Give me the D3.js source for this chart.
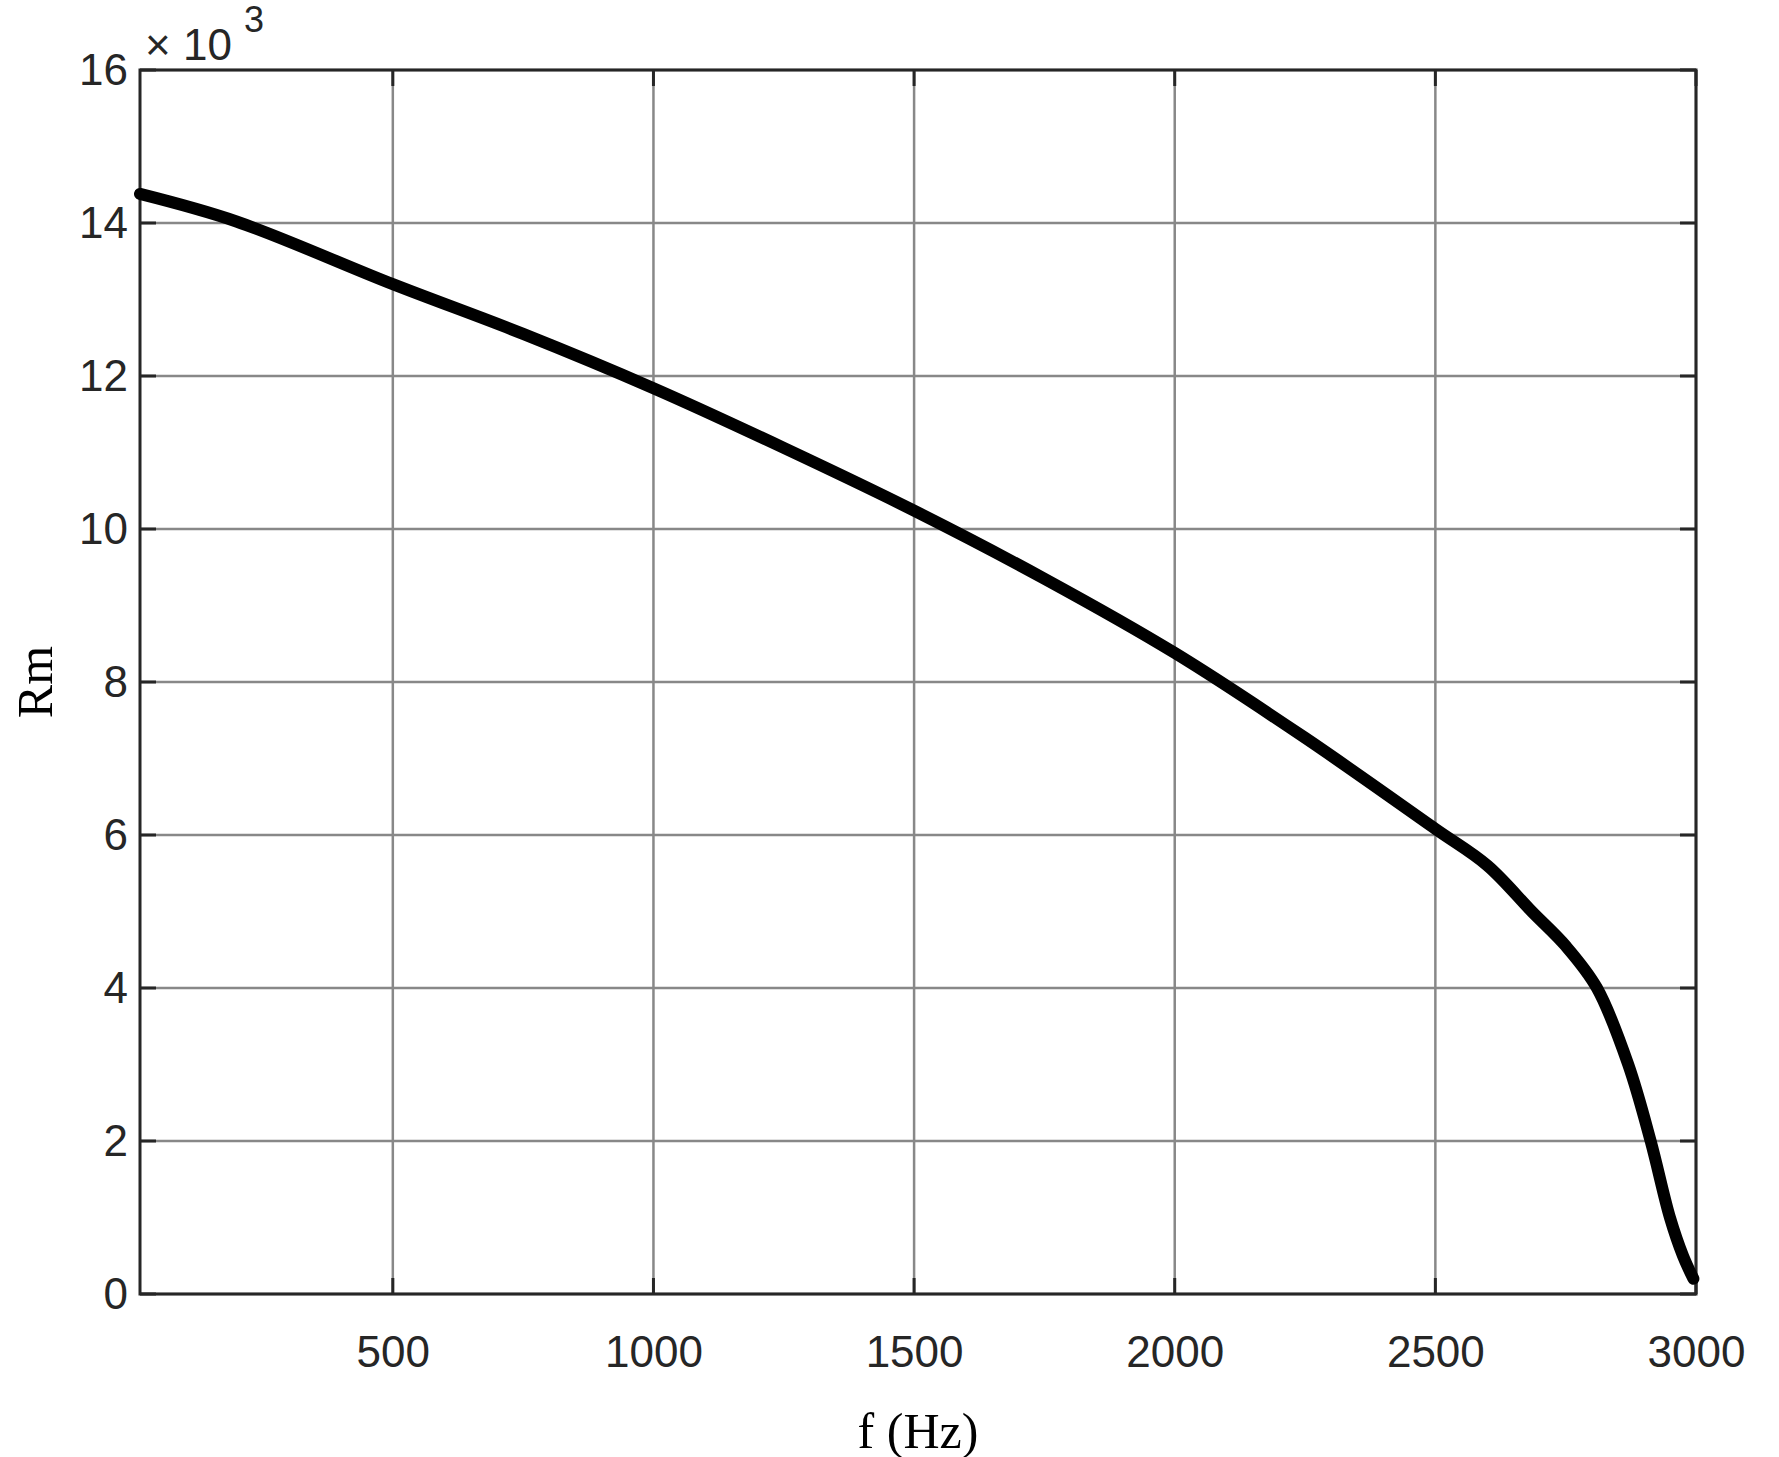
<!DOCTYPE html>
<html><head><meta charset="utf-8">
<script src="https://cdn.jsdelivr.net/npm/d3@7"></script>
<style>body{margin:0;background:#fff}</style></head>
<body><svg id="c" width="1779" height="1457"></svg>
<script>
const freq = [15,200,500,750,1000,1250,1500,1750,2000,2250,2500,2600,2685,2750,2810,2870,2913,2950,2975,2995];
const rm   = [14.38,14.02,13.2,12.55,11.84,11.06,10.24,9.35,8.38,7.27,6.08,5.6,5.0,4.55,4.0,3.0,2.0,1.0,0.5,0.2];
const xTicks = [500,1000,1500,2000,2500,3000];
const yTicks = [0,2,4,6,8,10,12,14,16];
const svg = d3.select("#c");
const L=140,R=1696,T=70,B=1294;
const x = d3.scaleLinear().domain([15,3000]).range([L,R]);
const y = d3.scaleLinear().domain([0,16]).range([B,T]);
const g = svg.append("g");
g.selectAll(".gx").data(xTicks).join("line").attr("x1",x).attr("x2",x).attr("y1",T).attr("y2",B).attr("stroke","#888").attr("stroke-width",2.5);
g.selectAll(".gy").data(yTicks).join("line").attr("y1",y).attr("y2",y).attr("x1",L).attr("x2",R).attr("stroke","#888").attr("stroke-width",2.5);
svg.append("rect").attr("x",L).attr("y",T).attr("width",R-L).attr("height",B-T).attr("fill","none").attr("stroke","#262626").attr("stroke-width",3);
const ax = svg.append("g").attr("transform",`translate(0,${B})`).call(d3.axisBottom(x).tickValues(xTicks).tickFormat(d3.format("d")).tickSize(0).tickPadding(42));
const ay = svg.append("g").attr("transform",`translate(${L},0)`).call(d3.axisLeft(y).tickValues(yTicks).tickSize(0).tickPadding(12));
[ax,ay].forEach(a=>{a.select(".domain").remove();a.selectAll("text").attr("font-family","Liberation Sans, Arial").attr("font-size",44).attr("fill","#262626");});
svg.selectAll(".tx").data(xTicks).join("line").attr("x1",x).attr("x2",x).attr("y1",B).attr("y2",B-16).attr("stroke","#262626").attr("stroke-width",3);
svg.selectAll(".tx2").data(xTicks).join("line").attr("x1",x).attr("x2",x).attr("y1",T).attr("y2",T+16).attr("stroke","#262626").attr("stroke-width",3);
svg.selectAll(".ty").data(yTicks).join("line").attr("y1",y).attr("y2",y).attr("x1",L).attr("x2",L+16).attr("stroke","#262626").attr("stroke-width",3);
svg.selectAll(".ty2").data(yTicks).join("line").attr("y1",y).attr("y2",y).attr("x1",R).attr("x2",R-16).attr("stroke","#262626").attr("stroke-width",3);
const line = d3.line().x((d,i)=>x(freq[i])).y(d=>y(d)).curve(d3.curveCatmullRom.alpha(0.5));
svg.append("path").attr("d",line(rm)).attr("fill","none").attr("stroke","#000").attr("stroke-width",12).attr("stroke-linecap","round");
svg.append("text").attr("x",145).attr("y",60).attr("font-family","Liberation Sans, Arial").attr("font-size",44).attr("fill","#262626").html('× 10<tspan dx="12" dy="-28" font-size="36">3</tspan>');
svg.append("text").attr("x",(L+R)/2).attr("y",1448).attr("text-anchor","middle").attr("font-family","Liberation Serif, Times New Roman").attr("font-size",50).text("f (Hz)");
svg.append("text").attr("transform",`translate(52,${(T+B)/2}) rotate(-90)`).attr("text-anchor","middle").attr("font-family","Liberation Serif, Times New Roman").attr("font-size",50).text("Rm");
</script></body></html>
